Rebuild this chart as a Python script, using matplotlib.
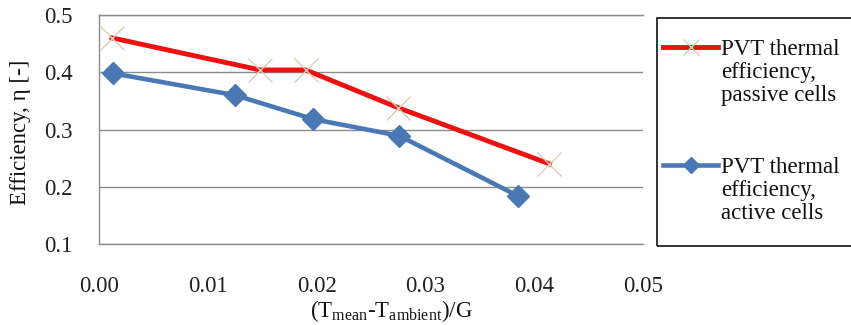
"""
PVT thermal efficiency vs reduced temperature, passive vs active cells
"""

import matplotlib
matplotlib.use("Agg")
import matplotlib.pyplot as plt
from matplotlib.patches import Rectangle
from matplotlib.lines import Line2D

plt.rcParams['font.family'] = ['Liberation Serif', 'DejaVu Serif']
plt.rcParams['mathtext.fontset'] = 'custom'
plt.rcParams['mathtext.rm'] = 'Liberation Serif'

# data
x_passive = [0.0012, 0.0148, 0.0190, 0.0275, 0.0414]
eff_passive = [0.460, 0.404, 0.404, 0.338, 0.240]
x_active = [0.0013, 0.0125, 0.0197, 0.0276, 0.0385]
eff_active = [0.398, 0.360, 0.318, 0.289, 0.184]

label_passive = "PVT thermal\nefficiency,\npassive cells"
label_active = "PVT thermal\nefficiency,\nactive cells"

RED = '#f01010'
BLUE = '#4a78b5'
TAN = '#ddcdb3'
GRID = '#8c8c8c'
FS = 16.5

W, H = 851, 325
fig = plt.figure(figsize=(W / 100, H / 100), dpi=100)
ax = fig.add_axes([99 / W, (H - 244) / H, (643 - 99) / W, (244 - 15) / H])

ax.plot(x_passive, eff_passive, color=RED, lw=3.5, marker='x', ms=17,
        mec=TAN, mew=1.0, zorder=3)
ax.plot(x_active, eff_active, color=BLUE, lw=3.3, marker='D', ms=11,
        mfc=BLUE, mec=BLUE, zorder=3)

ax.set_xlim(0, 0.05)
ax.set_ylim(0.1, 0.5)
ax.set_xticks([0, 0.01, 0.02, 0.03, 0.04, 0.05])
ax.set_xticklabels(['0.00', '0.01', '0.02', '0.03', '0.04', '0.05'])
ax.set_yticks([0.1, 0.2, 0.3, 0.4, 0.5])
ax.set_yticklabels(['0.1', '0.2', '0.3', '0.4', '0.5'])
ax.tick_params(length=0, labelsize=FS, colors='#222222')
ax.tick_params(axis='x', pad=23)
ax.tick_params(axis='y', pad=19)
ax.grid(axis='y', color=GRID, lw=1.0)
for side in ['left', 'bottom', 'top']:
    ax.spines[side].set_color(GRID)
    ax.spines[side].set_linewidth(1.0)
ax.spines['right'].set_visible(False)

ax.set_xlabel(r'(T$_{\mathrm{mean}}$-T$_{\mathrm{ambient}}$)/G', fontsize=FS,
              color='#111111')
ax.set_ylabel('Efficiency, η [-]', fontsize=FS, color='#111111')
ax.xaxis.set_label_coords((391 - 99) / 544, -(298 - 244) / 229)
ax.yaxis.set_label_coords(-(99 - 31) / 544, (244 - 132) / 229)

# legend box drawn by hand so handles sit on the first line of each label
fig.patches.append(Rectangle((657 / W, (H - 246) / H), 200 / W, 228.5 / H,
                             transform=fig.transFigure, fill=False,
                             ec='#111111', lw=1.2))
entries = [(label_passive, 47, RED, 'x', TAN, 3.5, 12),
           (label_active, 165, BLUE, 'D', BLUE, 3.3, 8.5)]
for label, ypx, col, mk, mcol, lw, ms in entries:
    yf = (H - ypx) / H
    fig.lines.append(Line2D([663 / W, 718 / W], [yf, yf], transform=fig.transFigure,
                            color=col, lw=lw))
    fig.lines.append(Line2D([690.5 / W], [yf], transform=fig.transFigure,
                            marker=mk, ms=ms, mfc=mcol, mec=mcol, mew=1.0, ls='none'))
    fig.text(721 / W, (H - ypx + 8) / H, label, fontsize=FS, va='top',
             ha='left', linespacing=1.12, color='#111111')

fig.savefig('out.png', dpi=100)
